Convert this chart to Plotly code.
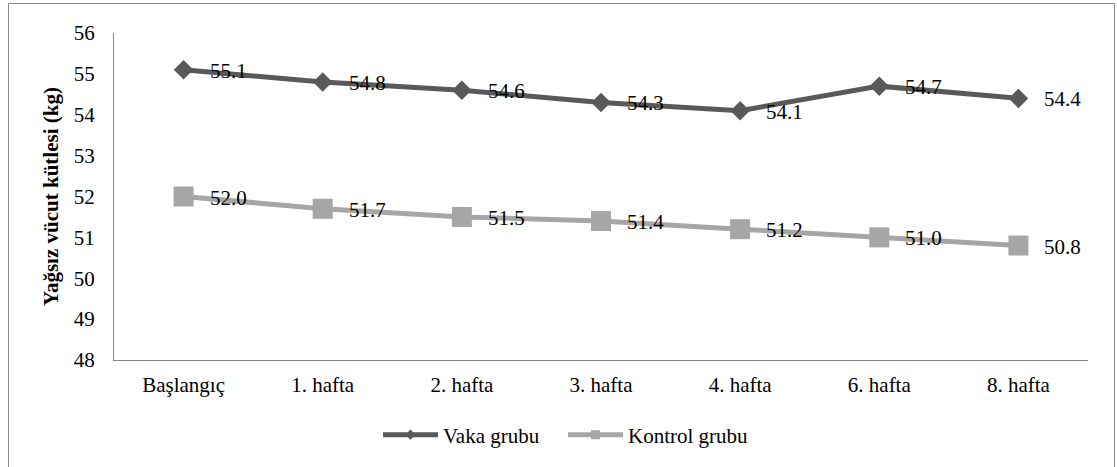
import plotly.graph_objects as go

categories = ["Başlangıç", "1. hafta", "2. hafta", "3. hafta", "4. hafta", "6. hafta", "8. hafta"]
vaka = [55.1, 54.8, 54.6, 54.3, 54.1, 54.7, 54.4]
kontrol = [52.0, 51.7, 51.5, 51.4, 51.2, 51.0, 50.8]
y_ticks = [48, 49, 50, 51, 52, 53, 54, 55, 56]

FONT = "Liberation Serif, Times New Roman, serif"
FS = 21
W, H = 1117, 467
L, R, T, B = 114, 1088, 33, 360
DARK, LIGHT = "#595959", "#a6a6a6"

fig = go.Figure()
fig.add_trace(go.Scatter(
    x=categories, y=vaka, name="Vaka grubu", mode="lines+markers", showlegend=False,
    line=dict(color=DARK, width=5),
    marker=dict(symbol="diamond", size=15, color=DARK),
))
fig.add_trace(go.Scatter(
    x=categories, y=kontrol, name="Kontrol grubu", mode="lines+markers", showlegend=False,
    line=dict(color=LIGHT, width=5),
    marker=dict(symbol="square", size=20, color=LIGHT),
))
# legend-only entries with small markers
fig.add_trace(go.Scatter(
    x=[None], y=[None], name="Vaka grubu", mode="lines+markers",
    line=dict(color=DARK, width=5), marker=dict(symbol="diamond", size=8, color=DARK),
))
fig.add_trace(go.Scatter(
    x=[None], y=[None], name="Kontrol grubu", mode="lines+markers",
    line=dict(color=LIGHT, width=5), marker=dict(symbol="square", size=9, color=LIGHT),
))

annotations = []
for series in (vaka, kontrol):
    for c, v in zip(categories, series):
        annotations.append(dict(
            x=c, y=v, xref="x", yref="y", text=f"{v:.1f}",
            showarrow=False, xanchor="left", yanchor="middle",
            xshift=24, yshift=-1, font=dict(family=FONT, size=FS, color="#000000"),
        ))

pw = R - L
ph = B - T
def px(x):
    return (x - L) / pw
def py(y):
    return (B - y) / ph

shapes = [
    dict(type="line", xref="paper", yref="paper", x0=px(8.5), x1=px(8.5), y0=py(3.5), y1=py(470), line=dict(color="#8c8c8c", width=1)),
    dict(type="line", xref="paper", yref="paper", x0=px(8.5), x1=px(1114.5), y0=py(3.5), y1=py(3.5), line=dict(color="#8c8c8c", width=1)),
    dict(type="line", xref="paper", yref="paper", x0=px(1114.5), x1=px(1114.5), y0=py(3.5), y1=py(470), line=dict(color="#8c8c8c", width=1)),
]

fig.update_layout(
    width=W, height=H,
    margin=dict(l=L, r=W - R, t=T, b=H - B, autoexpand=False),
    paper_bgcolor="white", plot_bgcolor="white",
    font=dict(family=FONT, size=FS, color="#000000"),
    showlegend=True,
    legend=dict(orientation="h", x=px(563), xanchor="center", y=py(435), yanchor="middle",
                font=dict(family=FONT, size=FS), itemwidth=55, tracegroupgap=0,
                entrywidth=115, entrywidthmode="pixels"),
    annotations=annotations,
    shapes=shapes,
    xaxis=dict(type="category", showgrid=False, showline=True, linecolor="#868686", linewidth=1,
               ticks="", ticklabelstandoff=6, tickfont=dict(family=FONT, size=FS),
               range=[-0.5, len(categories) - 0.5]),
    yaxis=dict(range=[48, 56], tickvals=y_ticks, showgrid=False, showline=True, linecolor="#868686",
               linewidth=1, ticks="", ticklabelstandoff=14, zeroline=False,
               tickfont=dict(family=FONT, size=FS),
               title=dict(text="<b>Yağsız vücut kütlesi (kg)</b>", standoff=9,
                          font=dict(family=FONT, size=FS))),
)

fig.write_html("out.html", config={"displayModeBar": False},
               post_script="document.body.style.margin='0';document.body.style.padding='0';")
